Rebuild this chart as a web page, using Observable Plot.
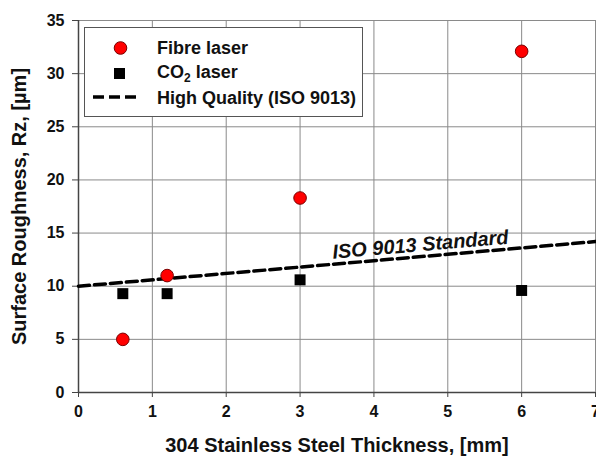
<!DOCTYPE html>
<html><head><meta charset="utf-8">
<script src="https://cdn.jsdelivr.net/npm/d3@7"></script>
<script src="https://cdn.jsdelivr.net/npm/@observablehq/plot@0.6"></script>
<style>
html,body{margin:0;padding:0;background:#fff;overflow:hidden;}
#wrap{position:relative;width:596px;height:458px;overflow:hidden;font-family:"Liberation Sans",Arial,sans-serif;}
#legend{position:absolute;left:84px;top:27px;width:277px;height:88px;border:1px solid #555;background:#fff;}
#legend svg{display:block;}
</style></head><body><div id="wrap"></div>
<script>
// ---- data ----
const thickness = [0.6, 1.2, 3, 6];
const fibreRz = [5.0, 11.0, 18.3, 32.1];
const co2Rz = [9.3, 9.3, 10.6, 9.6];
const isoX = [0, 7];
const isoRz = [10, 14.2];
const xTicks = [0, 1, 2, 3, 4, 5, 6, 7];
const yTicks = [0, 5, 10, 15, 20, 25, 30, 35];
const seriesNames = ["Fibre laser", "CO2 laser", "High Quality (ISO 9013)"];
const annotationText = ["ISO 9013 Standard"];
const annotationX = [4.63];
const annotationRz = [13.9];
const xLabel = "304 Stainless Steel Thickness, [mm]";
const yLabel = "Surface Roughness, Rz, [µm]";

const fibre = thickness.map((t, i) => ({t, rz: fibreRz[i]}));
const co2 = thickness.map((t, i) => ({t, rz: co2Rz[i]}));
const iso = isoX.map((t, i) => ({t, rz: isoRz[i]}));
const notes = annotationText.map((s, i) => ({s, t: annotationX[i], rz: annotationRz[i]}));

const chart = Plot.plot({
  width: 596, height: 458,
  marginLeft: 78, marginRight: 1, marginTop: 20, marginBottom: 66,
  style: {fontFamily: "Liberation Sans, Arial, sans-serif", fontWeight: "bold", fontSize: "16px", color: "#111", background: "#fff", overflow: "visible"},
  x: {domain: [0, 7]},
  y: {domain: [0, 35]},
  marks: [
    Plot.gridX(xTicks, {stroke: "#8a8a8a", strokeOpacity: 1, strokeWidth: 1}),
    Plot.gridY(yTicks, {stroke: "#8a8a8a", strokeOpacity: 1, strokeWidth: 1}),
    Plot.axisX({ticks: xTicks, tickFormat: d3.format("d"), tickSize: 5, tickPadding: 8, label: null, stroke: "#444", fontSize: 16}),
    Plot.axisY({ticks: yTicks, tickFormat: d3.format("d"), tickSize: 6, tickPadding: 8, label: null, stroke: "#444", fontSize: 16}),
    Plot.ruleX([0], {stroke: "#444", strokeWidth: 1.5}),
    Plot.ruleY([0], {stroke: "#444", strokeWidth: 1.5}),
    Plot.line(iso, {x: "t", y: "rz", stroke: "#000", strokeWidth: 3.5, strokeDasharray: "11,5"}),
    Plot.dot(fibre, {x: "t", y: "rz", r: 6.3, fill: "#ff0000", stroke: "#7a0000", strokeWidth: 1}),
    Plot.dot(co2, {x: "t", y: "rz", symbol: "square", r: 6.2, fill: "#000", stroke: "none"}),
    Plot.text(notes, {x: "t", y: "rz", text: "s", rotate: -4.9, fontSize: 20, fontStyle: "italic", fontWeight: "bold", fill: "#111"}),
    Plot.text([xLabel], {frameAnchor: "bottom", textAnchor: "middle", lineAnchor: "bottom", text: d => d, dy: 59, fontSize: 20, fontWeight: "bold", fill: "#111"}),
    Plot.text([yLabel], {frameAnchor: "left", textAnchor: "middle", lineAnchor: "middle", text: d => d, rotate: -90, dx: -59, fontSize: 20, fontWeight: "bold", fill: "#111"})
  ]
});
const wrap = document.getElementById("wrap");
wrap.appendChild(chart);

// legend
const leg = document.createElement("div");
leg.id = "legend";
const svg = d3.create("svg").attr("width", 277).attr("height", 88)
  .style("font-family", "Liberation Sans, Arial, sans-serif").style("font-weight", "bold").style("font-size", "18px");
svg.append("circle").attr("cx", 35.5).attr("cy", 20).attr("r", 6.3).attr("fill", "#ff0000").attr("stroke", "#7a0000");
svg.append("rect").attr("x", 29).attr("y", 40).attr("width", 11).attr("height", 11).attr("fill", "#000");
svg.append("line").attr("x1", 8).attr("x2", 55).attr("y1", 69).attr("y2", 69).attr("stroke", "#000").attr("stroke-width", 3.5).attr("stroke-dasharray", "11,5");
svg.append("text").attr("x", 72).attr("y", 26).attr("fill", "#111").text(seriesNames[0]);
const t2 = svg.append("text").attr("x", 72).attr("y", 50).attr("fill", "#111");
t2.append("tspan").text("CO");
t2.append("tspan").attr("font-size", "12px").attr("dy", 4).text("2");
t2.append("tspan").attr("dy", -4).text(" laser");
svg.append("text").attr("x", 72).attr("y", 76).attr("fill", "#111").text(seriesNames[2]);
leg.appendChild(svg.node());
wrap.appendChild(leg);
</script>
</body></html>
